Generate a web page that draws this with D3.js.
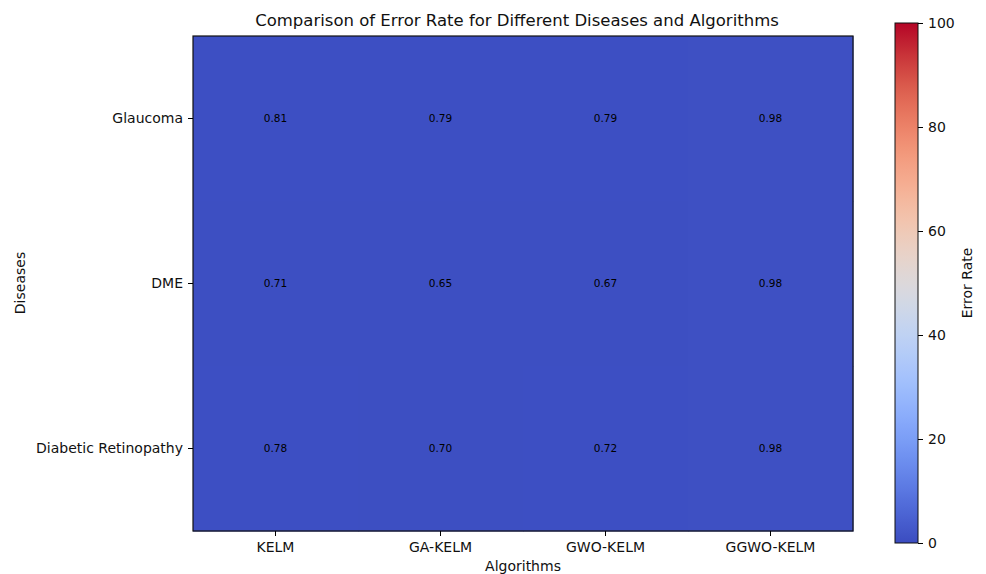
<!DOCTYPE html>
<html>
<head>
<meta charset="utf-8">
<script src="https://cdn.jsdelivr.net/npm/d3@7"></script>
<style>
  body { margin: 0; background: #fff; }
  text { font-family: "DejaVu Sans", sans-serif; fill: #111; }
</style>
</head>
<body>
<svg id="chart" width="986" height="574"></svg>
<script>
// data
var diseases = ["Glaucoma", "DME", "Diabetic Retinopathy"];
var algorithms = ["KELM", "GA-KELM", "GWO-KELM", "GGWO-KELM"];
var glaucomaErr = [0.81, 0.79, 0.79, 0.98];
var dmeErr = [0.71, 0.65, 0.67, 0.98];
var drErr = [0.78, 0.70, 0.72, 0.98];
var colorTicks = [0, 20, 40, 60, 80, 100];
// coolwarm stops
var coolwarm = ["#3b4cc0","#5977e3","#7b9ff9","#9ebeff","#c0d4f5","#dddcdc","#f2cbb7","#f7ac8e","#ee8468","#d65244","#b40426"];

var rows = [glaucomaErr, dmeErr, drErr];
var cells = [];
rows.forEach(function(r, i) {
  r.forEach(function(v, j) {
    cells.push({ disease: diseases[i], algo: algorithms[j], value: v });
  });
});

var svg = d3.select("#chart");
var plotLeft = 193, plotTop = 36, cellW = 165;

var x = d3.scaleBand().domain(algorithms).range([plotLeft, plotLeft + cellW * algorithms.length]);
var y = d3.scaleBand().domain(diseases).range([plotTop, plotTop + cellW * diseases.length]);

var interp = d3.interpolateRgbBasis(coolwarm);
var color = d3.scaleSequential(interp).domain([0, 100]);

// cells
svg.selectAll("rect.cell")
  .data(cells)
  .enter().append("rect")
  .attr("class", "cell")
  .attr("x", d => x(d.algo))
  .attr("y", d => y(d.disease))
  .attr("width", x.bandwidth() + 0.5)
  .attr("height", y.bandwidth() + 0.5)
  .style("fill", d => color(d.value));

// value labels
svg.selectAll("text.val")
  .data(cells)
  .enter().append("text")
  .attr("class", "val")
  .attr("x", d => x(d.algo) + x.bandwidth() / 2)
  .attr("y", d => y(d.disease) + y.bandwidth() / 2)
  .attr("text-anchor", "middle")
  .attr("dy", "0.35em")
  .style("font-size", "10.5px")
  .style("fill", "#000")
  .text(d => d.value.toFixed(2));

// border
svg.append("rect")
  .attr("x", x.range()[0])
  .attr("y", y.range()[0])
  .attr("width", x.range()[1] - x.range()[0])
  .attr("height", y.range()[1] - y.range()[0])
  .style("fill", "none")
  .style("stroke", "#111")
  .style("stroke-width", 1.2);

// axes
var xAxis = svg.append("g")
  .attr("transform", "translate(0," + y.range()[1] + ")")
  .call(d3.axisBottom(x).tickSize(5).tickSizeOuter(0).tickPadding(6));
xAxis.select(".domain").remove();
xAxis.selectAll("text").style("font-size", "14px");

var yAxis = svg.append("g")
  .attr("transform", "translate(" + x.range()[0] + ",0)")
  .call(d3.axisLeft(y).tickSize(5).tickSizeOuter(0).tickPadding(5));
yAxis.select(".domain").remove();
yAxis.selectAll("text").style("font-size", "14px");

// title and labels
svg.append("text")
  .attr("x", 517).attr("y", 26)
  .attr("text-anchor", "middle")
  .style("font-size", "16.5px")
  .text("Comparison of Error Rate for Different Diseases and Algorithms");

svg.append("text")
  .attr("x", 523).attr("y", 571)
  .attr("text-anchor", "middle")
  .style("font-size", "14px")
  .text("Algorithms");

svg.append("text")
  .attr("transform", "translate(25,283) rotate(-90)")
  .attr("text-anchor", "middle")
  .style("font-size", "14px")
  .text("Diseases");

// colorbar
var cbX = 895, cbW = 23;
var cy = d3.scaleLinear().domain([0, 100]).range([543, 23]);

var grad = svg.append("defs").append("linearGradient")
  .attr("id", "cw").attr("x1", "0").attr("y1", "1").attr("x2", "0").attr("y2", "0");
grad.selectAll("stop")
  .data(d3.range(0, 1.0001, 0.02))
  .enter().append("stop")
  .attr("offset", d => d)
  .attr("stop-color", d => interp(d));

svg.append("rect")
  .attr("x", cbX).attr("y", cy(100))
  .attr("width", cbW).attr("height", cy(0) - cy(100))
  .style("fill", "url(#cw)")
  .style("stroke", "#111")
  .style("stroke-width", 1);

var cAxis = svg.append("g")
  .attr("transform", "translate(" + (cbX + cbW) + ",0)")
  .call(d3.axisRight(cy).tickValues(colorTicks).tickSize(5).tickPadding(5));
cAxis.select(".domain").remove();
cAxis.selectAll("text").style("font-size", "14px");

svg.append("text")
  .attr("transform", "translate(972,283) rotate(-90)")
  .attr("text-anchor", "middle")
  .style("font-size", "14px")
  .text("Error Rate");
</script>
</body>
</html>
